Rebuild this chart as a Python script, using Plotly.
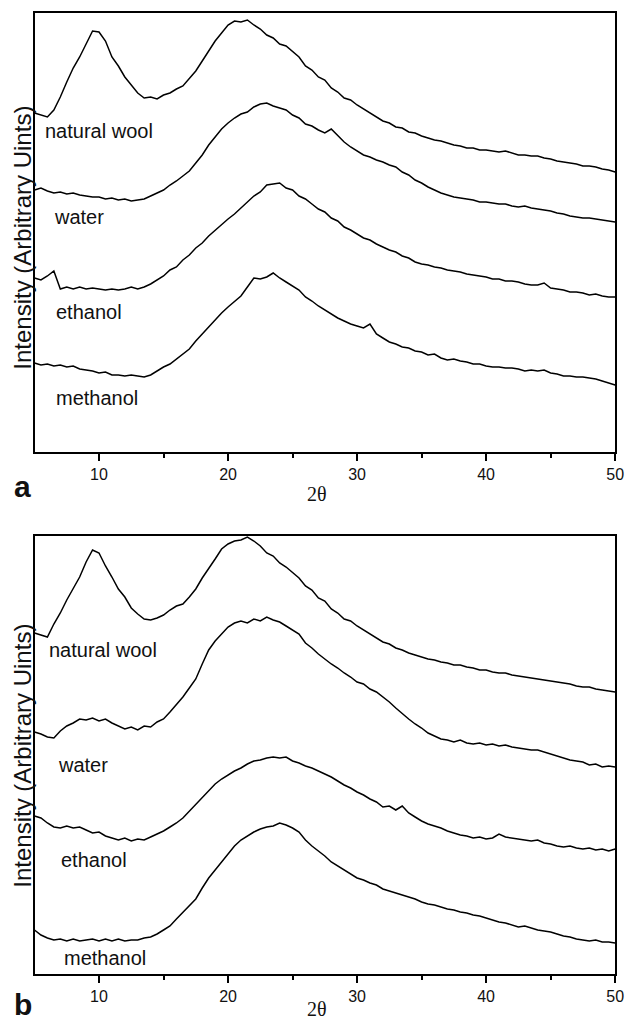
import numpy as np
import plotly.graph_objects as go

# 2-theta sampling (degrees)
two_theta = np.arange(5.0, 50.01, 0.5)

# Panel a intensities (arbitrary units)
a_natural_wool = [338,336,334,341,354,369,383,394,407,420,
                  419,410,394,385,374,366,358,353,354,352,
                  356,358,362,365,372,380,390,400,410,418,
                  426,430,429,431,426,422,416,413,407,405,
                  399,394,385,381,374,371,363,359,353,351,
                  346,342,338,334,330,328,324,323,319,318,
                  315,313,311,310,308,306,305,303,303,301,
                  301,300,299,300,298,296,296,295,295,293,
                  292,290,289,288,287,285,285,284,282,281,
                  279]
a_water = [261,263,260,258,259,257,258,256,255,254,
           254,252,253,251,252,250,251,252,255,258,
           261,266,270,275,280,288,296,306,314,322,
           328,333,337,339,344,347,348,345,343,341,
           336,333,327,325,321,318,322,315,309,304,
           300,296,294,291,289,286,284,279,276,271,
           268,264,261,258,256,254,253,252,251,249,
           249,248,247,247,245,244,245,243,242,241,
           240,238,237,235,234,233,233,232,231,230,
           229]
a_ethanol = [173,171,175,180,162,164,162,164,162,163,
             162,161,162,161,162,164,162,164,167,171,
             175,181,184,191,196,203,208,215,221,227,
             232,237,243,248,255,259,266,267,268,263,
             261,255,252,247,242,239,233,230,224,221,
             217,213,211,207,204,201,199,195,193,189,
             187,186,184,183,181,180,179,177,176,175,
             174,172,172,170,170,169,167,166,166,168,
             163,162,161,159,159,158,156,157,155,154,
             154]
a_methanol = [88,86,87,85,86,84,85,82,81,80,
              78,79,76,76,75,76,75,74,76,80,
              84,87,92,97,102,110,117,124,132,138,
              144,150,155,164,173,172,174,178,173,169,
              165,161,154,150,145,141,137,133,130,127,
              125,123,127,117,113,109,107,104,103,100,
              99,96,97,93,91,92,90,89,87,87,
              85,84,84,83,83,82,80,81,80,81,
              78,77,75,75,74,74,73,72,70,68,
              66]

# Panel b intensities (arbitrary units)
b_natural_wool = [341,339,337,350,361,374,386,397,412,424,
                  421,408,397,385,377,366,360,355,354,356,
                  359,364,368,370,377,385,396,405,415,425,
                  430,433,434,437,433,428,421,418,411,407,
                  401,396,388,384,376,373,365,361,355,353,
                  348,344,340,336,332,330,326,324,321,319,
                  317,315,314,312,311,309,309,307,306,304,
                  304,302,301,301,299,298,297,296,295,294,
                  293,292,291,290,288,287,287,285,284,283,
                  282]
b_water = [242,240,237,236,243,248,251,255,254,256,
           253,255,251,248,245,247,244,248,247,252,
           255,262,269,277,286,295,310,324,333,340,
           347,351,353,351,355,353,357,354,352,348,
           344,340,331,326,320,315,310,306,301,297,
           292,290,285,282,277,272,266,260,255,250,
           246,241,238,235,234,232,234,231,230,231,
           229,230,228,229,227,226,225,224,224,222,
           220,218,216,214,213,212,209,210,207,208,
           207]
b_ethanol = [158,156,151,147,146,148,146,147,144,141,
             142,138,136,134,136,133,135,134,137,140,
             143,147,151,156,163,170,177,184,190,195,
             199,203,206,210,213,214,216,217,216,217,
             213,211,208,206,203,200,197,193,189,186,
             182,179,175,172,167,168,164,168,161,157,
             153,150,148,146,143,141,139,138,136,137,
             135,136,140,137,136,135,134,133,134,131,
             130,128,127,128,126,125,126,124,125,123,
             125]
b_methanol = [44,39,36,34,35,33,35,33,34,35,
              33,35,33,35,33,34,34,36,37,40,
              44,48,55,62,68,75,86,96,104,112,
              120,128,134,138,142,145,147,148,151,149,
              146,142,134,128,123,118,112,108,104,100,
              96,94,91,89,85,83,81,79,77,75,
              72,70,69,67,65,64,62,61,59,58,
              56,54,52,51,49,47,48,46,44,43,
              42,40,38,37,35,34,33,34,32,32,
              31]

series_names = ["natural wool", "water", "ethanol", "methanol"]
panel_a = [a_natural_wool, a_water, a_ethanol, a_methanol]
panel_b = [b_natural_wool, b_water, b_ethanol, b_methanol]
x_ticks = [10, 20, 30, 40, 50]
x_minor = [15, 25, 35, 45]

W, H = 633, 1023
fig = go.Figure()
line_style = dict(color="black", width=1.5)
for name, ys in zip(series_names, panel_a):
    fig.add_trace(go.Scatter(x=two_theta, y=ys, mode="lines", line=line_style,
                             name=name, xaxis="x", yaxis="y", showlegend=False))
for name, ys in zip(series_names, panel_b):
    fig.add_trace(go.Scatter(x=two_theta, y=ys, mode="lines", line=line_style,
                             name=name, xaxis="x2", yaxis="y2", showlegend=False))

def px_x(p):
    return p / W

def px_y(p):
    return 1 - p / H

xdom = [px_x(35), px_x(624)]
common_x = dict(range=[5, 50], showline=True, linecolor="black", linewidth=2,
                mirror=True, showgrid=False, zeroline=False,
                ticks="outside", ticklen=7, tickwidth=1.5, tickcolor="black",
                tickvals=x_ticks, ticktext=[str(v) for v in x_ticks],
                tickfont=dict(family="Liberation Sans, Arial", size=16, color="#111"),
                minor=dict(tickvals=x_minor, ticks="outside", ticklen=4,
                           tickwidth=1.5, tickcolor="black"),
                domain=xdom)
common_y = dict(showline=True, linecolor="black", linewidth=2, mirror=True,
                showgrid=False, zeroline=False, showticklabels=False, ticks="")

fig.update_layout(
    width=W, height=H, margin=dict(l=0, r=0, t=0, b=0),
    paper_bgcolor="white", plot_bgcolor="white",
    xaxis=dict(**common_x, anchor="y"),
    yaxis=dict(**common_y, range=[-1, 438], domain=[px_y(452), px_y(13)], anchor="x"),
    xaxis2=dict(**common_x, anchor="y2"),
    yaxis2=dict(**common_y, range=[0, 438], domain=[px_y(974), px_y(536)], anchor="x2"),
)

label_font = dict(family="Liberation Sans, Arial", size=20, color="#111")
ann = []
label_pos_a = [(44, 131), (53, 217), (55, 312), (55, 398)]
label_pos_b = [(48, 650), (57, 765), (60, 860), (63, 958)]
for name, (lx, ly) in zip(series_names, label_pos_a):
    ann.append(dict(text=name, x=px_x(lx), y=px_y(ly), xref="paper", yref="paper",
                    xanchor="left", yanchor="middle", showarrow=False, font=label_font))
for name, (lx, ly) in zip(series_names, label_pos_b):
    ann.append(dict(text=name, x=px_x(lx), y=px_y(ly), xref="paper", yref="paper",
                    xanchor="left", yanchor="middle", showarrow=False, font=label_font))

ytitle = "Intensity (Arbitrary Uints)"
for cy in (238, 756):
    ann.append(dict(text=ytitle, x=px_x(22), y=px_y(cy), xref="paper", yref="paper",
                    xanchor="center", yanchor="middle", textangle=-90, showarrow=False,
                    font=dict(family="Liberation Sans, Arial", size=24, color="#111")))
for cy in (494, 1009):
    ann.append(dict(text="2θ", x=px_x(322), y=px_y(cy), xref="paper", yref="paper",
                    xanchor="center", yanchor="middle", showarrow=False,
                    font=dict(family="Liberation Serif, Times New Roman", size=20, color="#111")))
for txt, cy in (("a", 486), ("b", 1004)):
    ann.append(dict(text="<b>%s</b>" % txt, x=px_x(23), y=px_y(cy), xref="paper", yref="paper",
                    xanchor="center", yanchor="middle", showarrow=False,
                    font=dict(family="Liberation Sans, Arial", size=30, color="#111")))
fig.update_layout(annotations=ann)

fig.write_html("out.html")
